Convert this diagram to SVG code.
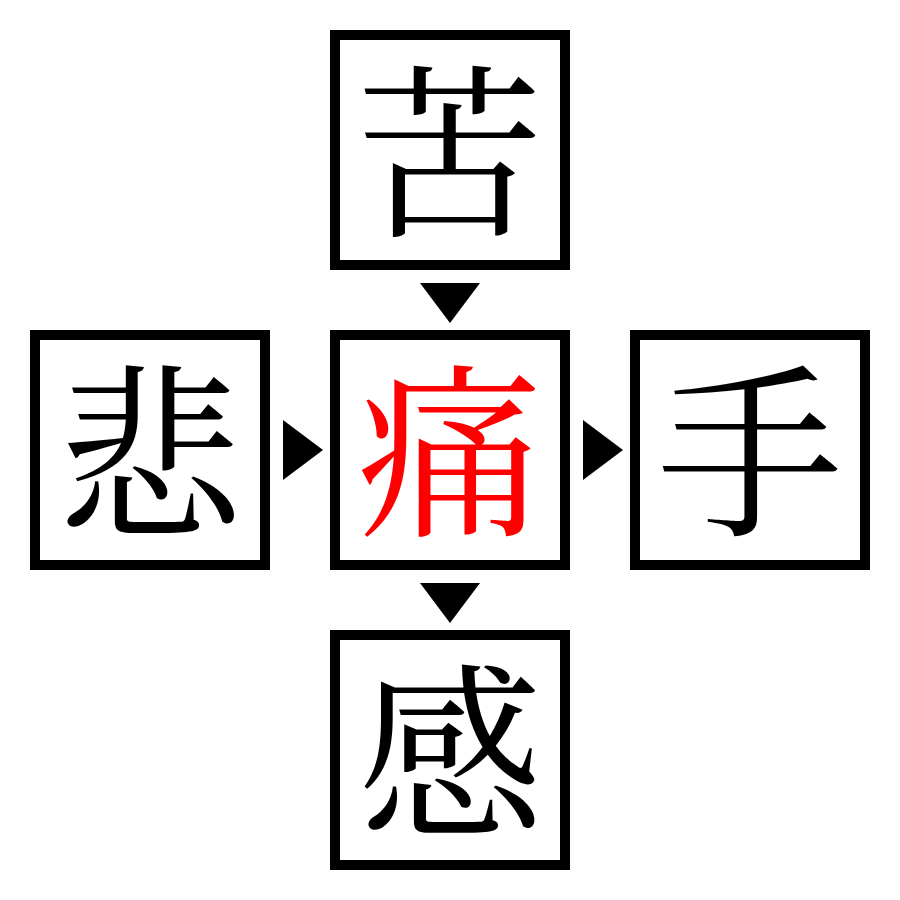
<svg xmlns="http://www.w3.org/2000/svg" width="900" height="900" viewBox="0 0 900 900">
<style>
.box{fill:#fff;stroke:#000;stroke-width:10}
.ch{font-family:"Noto Serif CJK JP","Noto Serif CJK SC","Noto Sans CJK JP",serif;font-size:186px;text-anchor:middle;fill:#000}
.red{fill:#ff0000}
.arr{fill:#000}
</style>
<rect width="900" height="900" fill="#fff"/>
<g id="node-top"><rect class="box" x="335" y="35" width="230" height="230"/><text class="ch" x="450" y="222">苦</text></g>
<g id="node-left"><rect class="box" x="35" y="335" width="230" height="230"/><text class="ch" x="150" y="522">悲</text></g>
<g id="node-center"><rect class="box" x="335" y="335" width="230" height="230"/><text class="ch red" x="450" y="522">痛</text></g>
<g id="node-right"><rect class="box" x="635" y="335" width="230" height="230"/><text class="ch" x="750" y="522">手</text></g>
<g id="node-bottom"><rect class="box" x="335" y="635" width="230" height="230"/><text class="ch" x="450" y="822">感</text></g>
<g id="connectors">
<polygon class="arr" points="420,283 480,283 450,323"/>
<polygon class="arr" points="283,420 323,450 283,480"/>
<polygon class="arr" points="583,420 623,450 583,480"/>
<polygon class="arr" points="420,583 480,583 450,623"/>
</g>
</svg>
